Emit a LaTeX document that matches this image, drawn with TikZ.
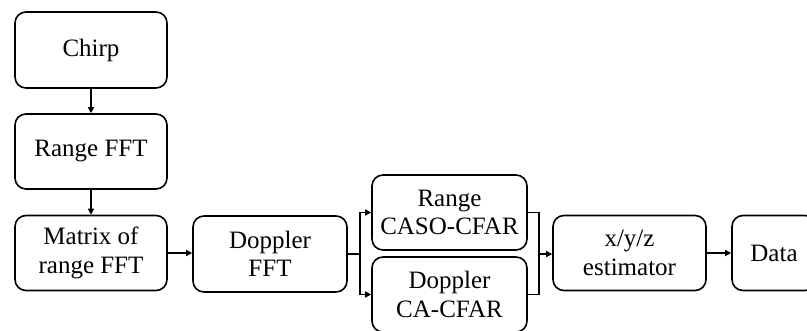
\documentclass[tikz,border=0pt]{standalone}
\usepackage{fontspec}
\setmainfont{Liberation Serif}
\usetikzlibrary{arrows.meta}
\begin{document}
\begin{tikzpicture}[x=1pt,y=-1pt,
  blk/.style={draw, line width=1.6pt, rounded corners=11pt, align=center,
    inner sep=0pt, font=\fontsize{25}{28.5}\selectfont},
  conn/.style={line width=1.4pt},
  arr/.style={conn, -{Triangle[length=6pt,width=6pt]}}]
\clip (0,0) rectangle (807,331);
\fill[white] (0,0) rectangle (807,331);
\node[blk, minimum width=152pt, minimum height=76pt] (chirp) at (91,50) {Chirp};
\node[blk, minimum width=152pt, minimum height=75pt] (rfft) at (91,151.5) {Range FFT};
\node[blk, minimum width=152pt, minimum height=75pt] (mat) at (91,253) {Matrix of\\range FFT};
\node[blk, minimum width=154pt, minimum height=76pt] (dfft) at (270,254) {Doppler\\FFT};
\node[blk, minimum width=155pt, minimum height=75pt] (rc) at (449.5,212.5) {Range\\CASO-CFAR};
\node[blk, minimum width=155pt, minimum height=75pt] (dc) at (449.5,294.5) {Doppler\\CA-CFAR};
\node[blk, minimum width=153pt, minimum height=75pt] (est) at (629.5,253) {x/y/z\\estimator};
\node[blk, minimum width=84pt, minimum height=75pt] (data) at (774,253) {Data};
\coordinate (j) at (360,254);
\coordinate (m) at (539,254);
\draw[arr] (chirp) -- (rfft);
\draw[arr] (rfft) -- (mat);
\draw[arr] (mat.east) -- (mat.east -| dfft.west);
\draw[conn] (dfft.east) -- (j);
\draw[arr] (j) |- (rc.west);
\draw[arr] (j) |- (dc.west);
\draw[conn] (rc.east) -| (m);
\draw[conn] (dc.east) -| (m);
\draw[arr] (m) -- (m -| est.west);
\draw[arr] (est.east) -- (est.east -| data.west);
\end{tikzpicture}
\end{document}
